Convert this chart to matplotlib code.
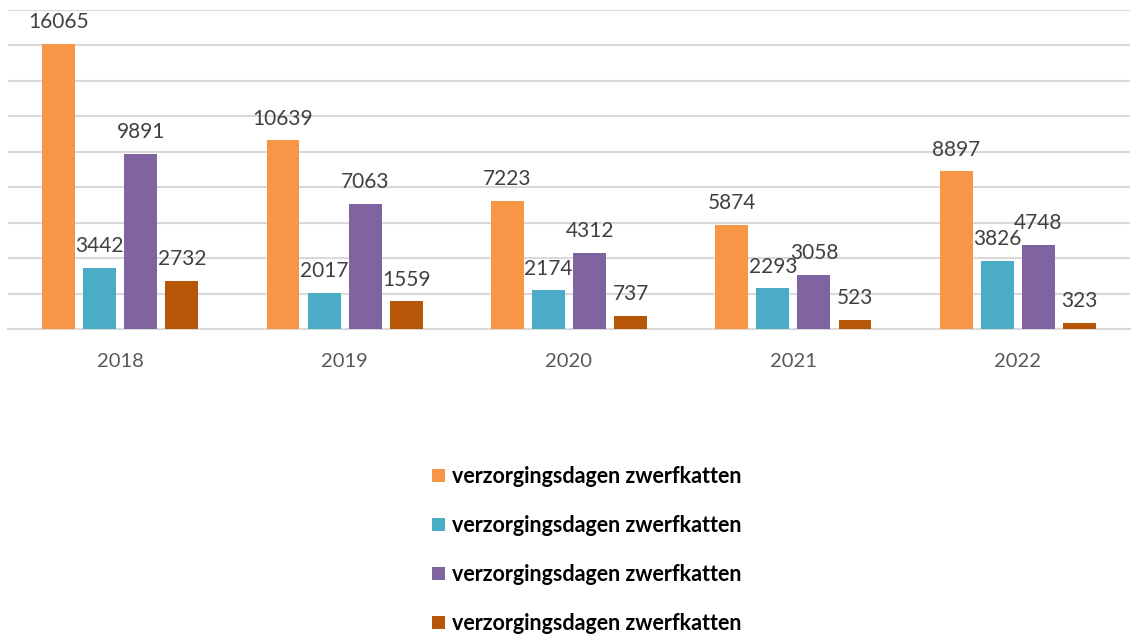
import matplotlib.pyplot as plt
import numpy as np

# Data
years = ['2018', '2019', '2020', '2021', '2022']
series1 = [16065, 10639, 7223, 5874, 8897]
series2 = [3442, 2017, 2174, 2293, 3826]
series3 = [9891, 7063, 4312, 3058, 4748]
series4 = [2732, 1559, 737, 523, 323]
labels = ['verzorgingsdagen zwerfkatten'] * 4
colors = ['#F79646', '#4BACC6', '#8064A2', '#B65708']

plt.rcParams['font.family'] = ['Lato', 'DejaVu Sans']

fig = plt.figure(figsize=(11.32, 6.39), dpi=100)
ax = fig.add_axes([8 / 1132, 1 - 329 / 639, 1122 / 1132, 319 / 639])

x = np.arange(len(years))
width = 0.147
step = 0.183
all_series = [series1, series2, series3, series4]
for i, (vals, c, lab) in enumerate(zip(all_series, colors, labels)):
    pos = x + (i - 1.5) * step
    bars = ax.bar(pos, vals, width, color=c, label=lab, zorder=3)
    for b, v in zip(bars, vals):
        ax.annotate(str(v), (b.get_x() + b.get_width() / 2, v),
                    xytext=(0, 8.5), textcoords='offset points',
                    ha='center', va='bottom', fontsize=15, color='#404040')

ax.set_xlim(-0.5, len(years) - 0.5)
ax.set_ylim(0, 18000)
ax.set_yticks(range(0, 18001, 2000))
ax.set_yticklabels([])
ax.set_xticks(x)
ax.set_xticklabels(years, fontsize=14.5, color='#595959')
ax.tick_params(length=0, pad=17)
ax.grid(axis='y', color='#D9D9D9', linewidth=1.5, zorder=0)
for s in ['top', 'right', 'left']:
    ax.spines[s].set_visible(False)
ax.spines['bottom'].set_color('#D9D9D9')
ax.spines['bottom'].set_linewidth(1.5)

fig.legend(loc='center', bbox_to_anchor=(0.518, 0.139), ncol=1, frameon=False,
           prop={'family': ['Lato', 'DejaVu Sans'], 'weight': 'bold', 'size': 15.5},
           handlelength=0.6, handleheight=0.6, handletextpad=0.33, labelspacing=1.3)

fig.savefig('out.png', dpi=100)
